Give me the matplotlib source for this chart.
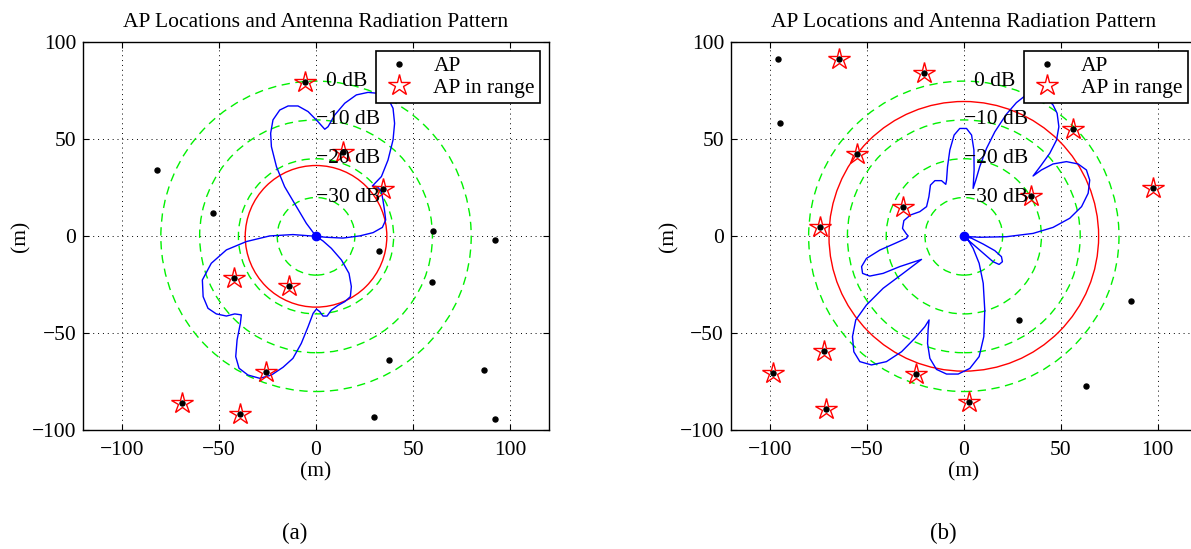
import matplotlib
matplotlib.use("Agg")
import matplotlib.pyplot as plt
from matplotlib.patches import Circle

plt.rcParams['font.family'] = ['Liberation Serif', 'DejaVu Serif']
plt.rcParams['mathtext.fontset'] = 'stix'

# ring radii (m) for the dB scale and their labels
ring_r = [80, 60, 40, 20]
ring_lbl = ['0 dB', '\u221210 dB', '\u221220 dB', '\u221230 dB']

# (a) access points
ap_a_x = [-5.8, -81.8, 13.9, -53.1, 34.5, 60.1, 92.1, 32.5, -42.4, -14.1, 59.8, 37.6, 86.6, -25.6, -68.9, -39.3, 29.7, 92.1]
ap_a_y = [79.7, 34.2, 43.6, 12.0, 24.6, 2.9, -1.9, -7.6, -21.6, -25.8, -23.4, -63.7, -68.9, -70.1, -85.7, -91.6, -93.3, -94.2]
inr_a = [1, 0, 1, 0, 1, 0, 0, 0, 1, 1, 0, 0, 0, 1, 1, 1, 0, 0]
range_a = 36.5

# (a) radiation pattern
pat_a_x = [0, -5.0, -10.1, -16.2, -20.4, -23.0, -23.4, -22.2, -18.7, -14.4, -9.3, -4.1, 1.0, 4.5, 6.2, 9.6, 14.8,
           20.8, 26.8, 32.0, 37.1, 39.7, 40.5, 39.7, 37.1, 33.7, 29.0, 31.6, 33.7, 34.5, 35.4, 35.9, 34.2, 29.4,
           22.5, 13.9, 5.3, 0,
           -11.9, -23.9, -35.9, -46.2, -54.0, -58.6, -58.2, -55.7, -51.4, -46.2, -41.9, -38.5, -39.0, -40.7, -41.4,
           -39.7, -35.1, -29.0, -23.0, -17.0, -11.9, -7.6, -4.1, -1.5, 0.2, 1.9, 3.6, 5.7, 7.9, 11.3, 14.8, 17.7,
           18.2, 17.0, 13.1, 7.9, 3.6, 0]
pat_a_y = [0, 6.7, 15.3, 25.6, 35.9, 46.2, 53.1, 60.0, 65.1, 67.2, 67.2, 64.3, 59.1, 55.2, 56.5, 62.5, 68.6,
           72.9, 74.2, 73.7, 71.1, 66.0, 58.2, 49.7, 39.3, 30.8, 25.9, 25.6, 23.0, 18.7, 12.7, 8.4, 4.6, 1.9,
           0.2, -0.9, -0.5, 0,
           0.9, 0.2, -2.7, -7.0, -13.9, -22.5, -31.1, -37.1, -40.0, -41.1, -40.0, -40.5, -44.8, -53.4, -62.0,
           -68.0, -71.5, -73.2, -71.5, -67.5, -62.9, -55.2, -46.6, -39.7, -37.5, -38.8, -41.1, -41.1, -38.0, -35.6,
           -33.7, -31.1, -25.9, -19.1, -12.2, -6.2, -2.4, 0]

# (b) access points
ap_b_x = [-95.7, -64.4, -20.6, -94.7, 56.2, -55.3, 97.3, 34.5, -31.4, -73.9, 86.3, 28.7, -72.2, -98.5, -24.9, 63.1, 2.7, -70.8]
ap_b_y = [91.6, 91.4, 84.2, 58.2, 55.5, 42.4, 25.1, 20.6, 14.9, 4.6, -33.3, -43.0, -59.3, -70.6, -71.0, -77.0, -85.2, -88.8]
inr_b = [0, 1, 1, 0, 1, 1, 1, 1, 1, 1, 0, 0, 1, 1, 1, 0, 1, 1]
range_b = 69.5

# (b) radiation pattern
pat_b_x = [0, 8.2, 22.0, 35.7, 46.0, 54.6, 60.7, 64.1, 64.9, 63.2, 58.9, 52.9, 46.0, 40.0, 35.7,
           40.0, 44.3, 47.8, 49.0, 48.1, 46.0, 41.8, 36.6, 31.4, 27.1, 22.0, 16.0, 11.7, 8.2, 6.2, 4.8,
           5.3, 5.2, 4.0, 1.4, -2.1, -5.0, -7.2, -8.4, -8.9, -9.3,
           -11.5, -14.9, -17.2, -18.0, -19.2, -22.7, -27.5, -30.9, -31.6, -29.6, -28.7,
           -29.6, -34.7, -43.3, -50.2, -52.7, -52.2, -48.5, -41.6, -33.0, -21.8,
           -31.3, -41.6, -50.2, -55.7, -57.4, -56.7, -53.6, -47.6, -39.9, -32.1, -25.3, -20.1, -17.9,
           -18.4, -18.7, -17.5, -14.1, -8.9, -2.9, 3.1, 7.9, 10.3, 10.8, 10.0, 7.9, 4.8, 2.2, 0,
           8.2, 15.1, 18.2, 19.9, 19.4, 16.0, 10.0, 4.0, 0]
pat_b_y = [0, -0.5, -0.2, 1.5, 4.6, 9.3, 15.3, 22.2, 29.0, 34.2, 37.3, 38.5, 37.3, 34.2, 31.1,
           36.8, 42.8, 49.6, 56.5, 63.4, 67.7, 72.0, 73.7, 72.3, 68.9, 63.0, 53.9, 45.3, 35.9, 29.0, 24.7,
           34.2, 44.5, 52.2, 55.6, 55.6, 52.2, 44.5, 35.9, 29.0, 26.8,
           28.7, 28.7, 26.4, 20.4, 15.3, 12.7, 11.0, 8.1, 4.1, 1.2, 0.2,
           -1.0, -3.3, -7.1, -11.4, -15.6, -19.1, -20.5, -19.1, -15.6, -11.9,
           -19.1, -26.8, -35.4, -43.1, -51.7, -59.5, -64.6, -66.3, -64.6, -59.5, -52.6, -46.6, -43.1,
           -48.3, -55.2, -62.9, -68.6, -71.0, -71.0, -68.1, -62.0, -51.7, -38.0, -24.2, -13.9, -6.2, -1.9, 0,
           -7.1, -13.1, -14.5, -13.1, -10.5, -7.4, -4.0, -1.0, 0]

fs = 15.5
fig = plt.figure(figsize=(11.91, 5.49), dpi=100)
ax_a = fig.add_axes([0.0699, 0.2162, 0.3909, 0.7067])
ax_b = fig.add_axes([0.6138, 0.2162, 0.3909, 0.7067])


def draw(ax, apx, apy, inr, rng, px, py, cap):
    for r in ring_r:
        ax.add_patch(Circle((0, 0), r, fill=False, ec='#00f000', lw=1.0, ls=(0, (6, 4)), zorder=2))
    ax.add_patch(Circle((0, 0), rng, fill=False, ec='#ff0000', lw=1.0, zorder=3))
    ax.plot(px, py, color='#0000ff', lw=1.0, zorder=4)
    ax.plot([0], [0], 'o', color='#0000ff', ms=6, zorder=5)
    ax.plot(apx, apy, 'o', color='k', ms=3.6, ls='none', zorder=6, label='AP')
    sx = [x for x, f in zip(apx, inr) if f]
    sy = [y for y, f in zip(apy, inr) if f]
    ax.plot(sx, sy, '*', mfc='none', mec='#ff0000', mew=1.0, ms=16, ls='none', zorder=7, label='AP in range')
    for r, t in zip(ring_r, ring_lbl):
        xo = 5 if r == 80 else 0
        ax.text(xo, r, t, ha='left', va='center', fontsize=fs, zorder=8)
    ax.set_xlim(-120, 120)
    ax.set_ylim(-100, 100)
    ax.set_xticks([-100, -50, 0, 50, 100])
    ax.set_yticks([-100, -50, 0, 50, 100])
    ax.grid(True, color='k', ls=(0, (1, 4)), lw=0.7)
    ax.set_axisbelow(True)
    ax.tick_params(direction='in', top=True, right=True, length=4, labelsize=fs, pad=5)
    ax.tick_params(axis='x', pad=8)
    for s in ax.spines.values():
        s.set_linewidth(1.0)
    ax.set_title('AP Locations and Antenna Radiation Pattern', fontsize=fs, pad=11)
    ax.set_xlabel('(m)', fontsize=fs, labelpad=1)
    ax.set_ylabel('(m)', fontsize=fs, labelpad=1)
    leg = ax.legend(loc='upper right', fontsize=fs, fancybox=False, edgecolor='k', framealpha=1,
                    borderaxespad=0.4, handlelength=1.6, handletextpad=0.8, borderpad=0.25, labelspacing=0.05)
    leg.get_frame().set_linewidth(1.2)
    ax.text(0.455, -0.265, cap, transform=ax.transAxes, ha='center', va='center', fontsize=fs + 1)


draw(ax_a, ap_a_x, ap_a_y, inr_a, range_a, pat_a_x, pat_a_y, '(a)')
draw(ax_b, ap_b_x, ap_b_y, inr_b, range_b, pat_b_x, pat_b_y, '(b)')

fig.savefig('out.png', dpi=100)
